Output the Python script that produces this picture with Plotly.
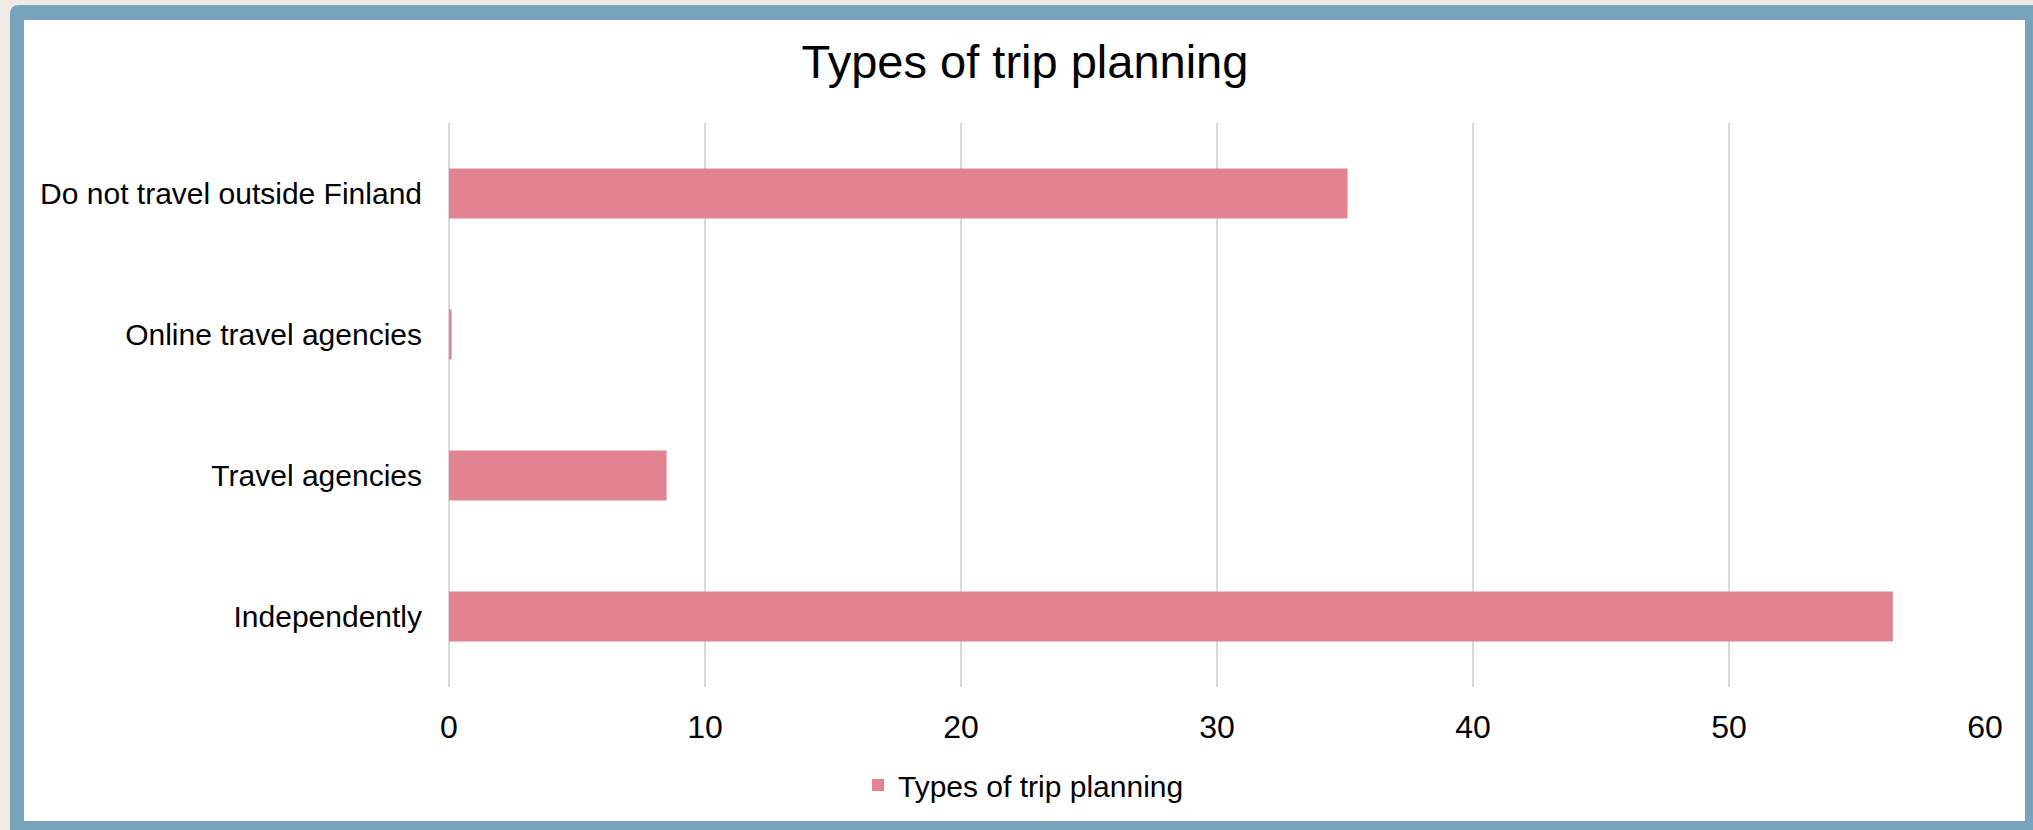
import plotly.graph_objects as go

categories = ["Independently", "Travel agencies", "Online travel agencies", "Do not travel outside Finland"]
values = [56.4, 8.5, 0.1, 35.1]
series_name = "Types of trip planning"
tick_vals = [0, 10, 20, 30, 40, 50, 60]

W, H = 2033, 830
L, R, T, B = 449, 48, 123, 143
PW, PH = W - L - R, H - T - B

def px_x(p):
    return (p - L) / PW

def px_y(p):
    return (H - B - p) / PH

FONT = "Liberation Sans, Arial, sans-serif"
BAR = "#E18391"

fig = go.Figure(go.Bar(
    x=values, y=categories, orientation="h", name=series_name,
    marker=dict(color=BAR, line=dict(width=0)),
    showlegend=True,
))

# outer frame with a rounded top-left corner
r = 9
frame_path = (
    f"M {px_x(10)},{px_y(5 + r)} "
    f"Q {px_x(10)},{px_y(5)} {px_x(10 + r)},{px_y(5)} "
    f"L {px_x(2045)},{px_y(5)} L {px_x(2045)},{px_y(845)} "
    f"L {px_x(10)},{px_y(845)} Z"
)
shapes = [
    dict(type="path", xref="paper", yref="paper", layer="below",
         path=frame_path, fillcolor="#77A4BD", line=dict(width=0)),
    dict(type="rect", xref="paper", yref="paper", layer="below",
         x0=px_x(24), x1=px_x(2025), y0=px_y(20), y1=px_y(821),
         fillcolor="#FFFFFF", line=dict(width=0)),
]

fig.update_layout(
    width=W, height=H,
    margin=dict(l=L, r=R, t=T, b=B, pad=0),
    paper_bgcolor="#EFEBE4",
    plot_bgcolor="#FFFFFF",
    font=dict(family=FONT, color="#000000", size=30),
    title=dict(text="Types of trip planning", x=1025 / W, xanchor="center",
               y=1 - 62 / H, yanchor="middle", xref="container", yref="container",
               font=dict(size=47, family=FONT, color="#000000")),
    bargap=0.645,
    shapes=shapes,
    showlegend=True,
    legend=dict(orientation="h", x=px_x(858), xanchor="left", y=px_y(785), yanchor="middle",
                font=dict(size=30, family=FONT, color="#000000"),
                bgcolor="rgba(0,0,0,0)", itemsizing="constant"),
    xaxis=dict(range=[0, 60], tickvals=tick_vals, ticktext=[str(v) for v in tick_vals],
               showgrid=True, gridcolor="#D9D9D9", gridwidth=2,
               zeroline=True, zerolinecolor="#D9D9D9", zerolinewidth=2,
               showline=False, ticks="", tickfont=dict(size=32, family=FONT, color="#000000"),
               ticklabelstandoff=18, fixedrange=True),
    yaxis=dict(type="category", categoryorder="array", categoryarray=categories,
               showgrid=False, zeroline=False, showline=False, ticks="",
               tickfont=dict(size=30, family=FONT, color="#000000"),
               ticklabelstandoff=26, fixedrange=True),
)

fig.write_html("out.html", config={"displayModeBar": False},
               post_script="document.body.style.margin='0';document.body.style.overflow='hidden';")
